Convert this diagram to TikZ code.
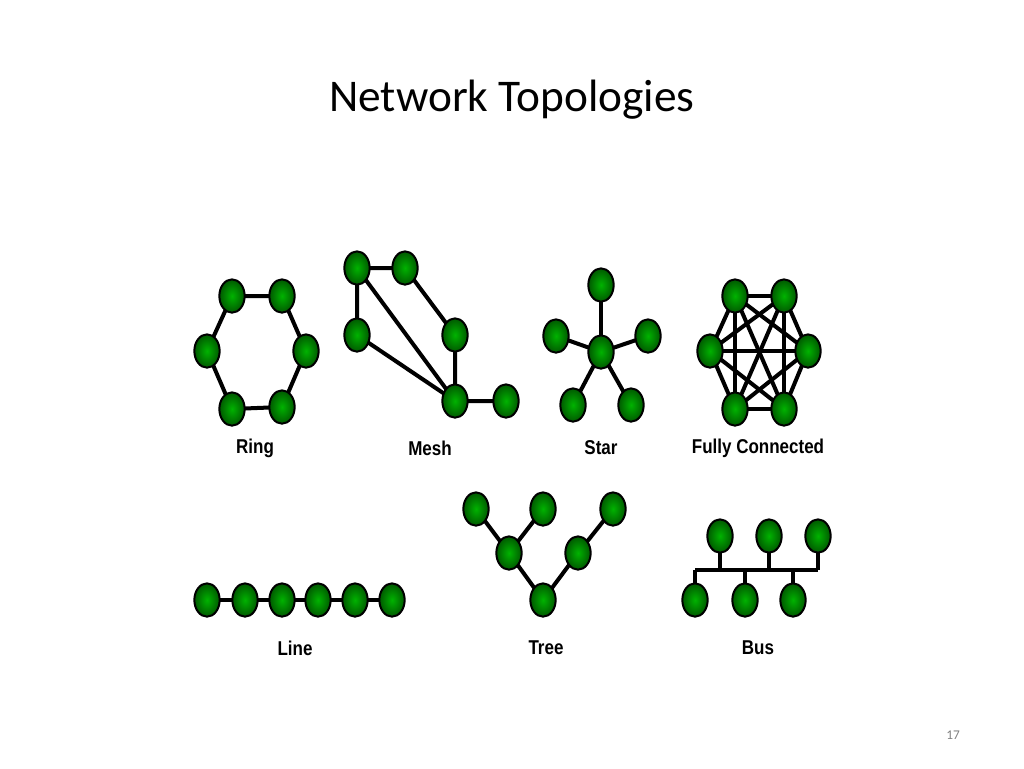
\documentclass[tikz,border=0pt]{standalone}
\usepackage{fontspec}
\setmainfont{Carlito}
\newfontfamily\labelfont{Liberation Sans}[FakeStretch=0.85]
\usetikzlibrary{shapes.geometric}
\begin{document}
\begin{tikzpicture}[x=0.75pt,y=-0.75pt,
host/.style={ellipse, draw=black, line width=1.5pt, inner sep=0pt, minimum width=19pt, minimum height=25pt, shading=radial, inner color=green!70!black, outer color=green!35!black},
link/.style={line width=3pt, black},
caption/.style={font=\fontsize{15}{18}\selectfont\labelfont\bfseries},
]
\useasboundingbox (0,0) rectangle (1024,768);
\node[font=\fontsize{34}{40}\selectfont] (title) at (512,100) {Network Topologies};
\node[font=\fontsize{10}{12}\selectfont, text=gray] (page) at (953,735) {17};

%Ring
\foreach \n/\x/\y in {r1/232/296, r2/282/296, r3/306/351, r4/282/407, r5/232/409, r6/207/351}
  \coordinate (\n) at (\x,\y);
\draw[link] (r1) -- (r2) -- (r3) -- (r4) -- (r5) -- (r6) -- cycle;
\foreach \n in {r1,r2,r3,r4,r5,r6} \node[host] at (\n) {};
\node[caption] (ringlbl) at (255,448) {Ring};

%Mesh
\foreach \n/\x/\y in {m1/357/268, m2/405/268, m3/357/335, m4/455/335, m5/455/401, m6/506/401}
  \coordinate (\n) at (\x,\y);
\draw[link] (m1) -- (m2) -- (m4) -- (m5) -- (m6);
\draw[link] (m1) -- (m3) -- (m5);
\draw[link] (m1) -- (m5);
\foreach \n in {m1,m2,m3,m4,m5,m6} \node[host] at (\n) {};
\node[caption] (meshlbl) at (430,448) {Mesh};

%Star
\coordinate (s0) at (601,352);
\foreach \n/\x/\y in {s1/601/285, s2/556/336, s3/648/336, s4/573/405, s5/631/405}
  {\coordinate (\n) at (\x,\y); \draw[link] (s0) -- (\n);}
\foreach \n in {s0,s1,s2,s3,s4,s5} \node[host] at (\n) {};
\node[caption] (starlbl) at (601,448) {Star};

%Fully connected
\foreach \n/\x/\y in {1/735/296, 2/784/296, 3/808/351, 4/784/409, 5/735/409, 6/710/351}
  \coordinate (f\n) at (\x,\y);
\foreach \i in {1,...,5}
  \foreach \j in {\i,...,6}
    \draw[link] (f\i) -- (f\j);
\foreach \n in {1,...,6} \node[host] at (f\n) {};
\node[caption] (fulllbl) at (758,448) {Fully Connected};

%Line
\foreach \n/\x in {1/207, 2/245, 3/282, 4/318, 5/355, 6/392}
  \coordinate (l\n) at (\x,600);
\draw[link] (l1) -- (l6);
\foreach \n in {1,...,6} \node[host] at (l\n) {};
\node[caption] (linelbl) at (295,648) {Line};

%Tree
\foreach \n/\x/\y in {t1/476/509, t2/543/509, t3/613/509, t4/509/553, t5/578/553, t6/543/600}
  \coordinate (\n) at (\x,\y);
\draw[link] (t1) -- (t4) -- (t6) -- (t5) -- (t3);
\draw[link] (t2) -- (t4);
\foreach \n in {t1,t2,t3,t4,t5,t6} \node[host] at (\n) {};
\node[caption] (treelbl) at (546,648) {Tree};

%Bus
\coordinate (busl) at (695,570);
\coordinate (busr) at (818,570);
\draw[link] (busl) -- (busr);
\foreach \n/\x/\y in {b1/720/536, b2/769/536, b3/818/536, b4/695/600, b5/745/600, b6/793/600}
  {\coordinate (\n) at (\x,\y); \draw[link] (\n) -- (\x,570);}
\foreach \n in {b1,b2,b3,b4,b5,b6} \node[host] at (\n) {};
\node[caption] (buslbl) at (758,648) {Bus};
\end{tikzpicture}
\end{document}
